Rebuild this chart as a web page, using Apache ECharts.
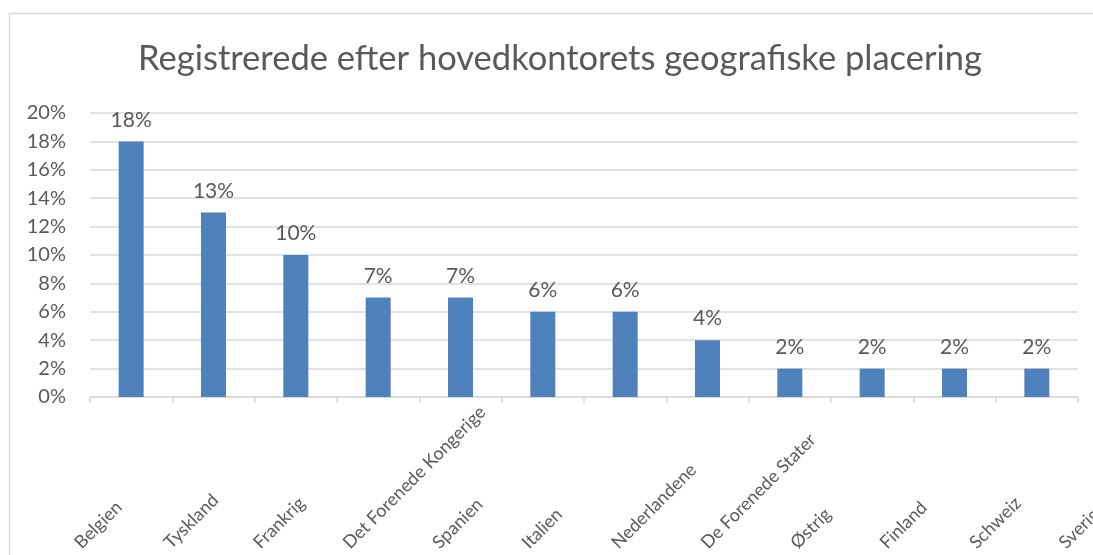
<!DOCTYPE html>
<html>
<head>
<meta charset="utf-8">
<script src="https://cdn.jsdelivr.net/npm/echarts@6/dist/echarts.min.js"></script>
<style>
  html, body { margin: 0; padding: 0; background: #fff; }
  #chart { width: 1093px; height: 555px; }
</style>
</head>
<body>
<div id="chart"></div>
<script>
// data
var lande = ['Belgien', 'Tyskland', 'Frankrig', 'Det Forenede Kongerige', 'Spanien', 'Italien',
             'Nederlandene', 'De Forenede Stater', 'Østrig', 'Finland', 'Schweiz', 'Sverige'];
var andel = [18, 13, 10, 7, 7, 6, 6, 4, 2, 2, 2, 2];
var yTicks = [0, 2, 4, 6, 8, 10, 12, 14, 16, 18, 20];

var grey = '#595959';
var line = '#d9d9d9';
var font = 'Lato, "Open Sans", sans-serif';

var chart = echarts.init(document.getElementById('chart'));
var option = {
    animation: false,
    textStyle: { fontFamily: font },
    title: {
        text: 'Registrerede efter hovedkontorets geografiske placering',
        left: 555,
        top: 36,
        textAlign: 'center',
        textStyle: { fontFamily: font, fontSize: 34.5, fontWeight: 'normal', color: grey }
    },
    // chart frame
    graphic: [{
        type: 'rect',
        shape: { x: 9.5, y: 13.5, width: 1200, height: 700 },
        style: { fill: 'none', stroke: line, lineWidth: 1.5 },
        silent: true
    }],
    grid: [
        { left: 90, right: 15, top: 113, bottom: 158, outerBoundsMode: 'none' },
        // labels sit on their own (wider) spacing
        { left: 84, width: 984.5, top: 552, height: 1, outerBoundsMode: 'none' }
    ],
    xAxis: [
        {
            type: 'category',
            data: lande,
            gridIndex: 0,
            axisLine: { lineStyle: { color: line, width: 1.5 } },
            axisTick: { show: true, interval: 0, length: 6, lineStyle: { color: line, width: 1.5 } },
            axisLabel: { show: false }
        },
        {
            type: 'category',
            data: lande,
            gridIndex: 1,
            position: 'top',
            boundaryGap: false,
            axisLine: { show: false },
            axisTick: { show: false },
            axisLabel: {
                interval: 0,
                rotate: 45,
                align: 'left',
                verticalAlign: 'bottom',
                margin: 0,
                fontSize: 18,
                color: grey,
                fontFamily: font
            }
        }
    ],
    yAxis: [
        {
            type: 'value',
            gridIndex: 0,
            min: yTicks[0],
            max: yTicks[yTicks.length - 1],
            interval: 2,
            axisLine: { show: false },
            axisTick: { show: false },
            splitLine: { lineStyle: { color: line, width: 1.5 } },
            axisLabel: { formatter: '{value}%', fontSize: 20, color: grey, margin: 24, fontFamily: font }
        },
        { type: 'value', gridIndex: 1, show: false }
    ],
    series: [{
        type: 'bar',
        data: andel,
        barWidth: 25,
        itemStyle: { color: '#4f81bd' },
        label: {
            show: true,
            position: 'top',
            distance: 11,
            formatter: '{c}%',
            fontSize: 21,
            color: grey,
            fontFamily: font
        }
    }]
};
chart.setOption(option);
</script>
</body>
</html>
